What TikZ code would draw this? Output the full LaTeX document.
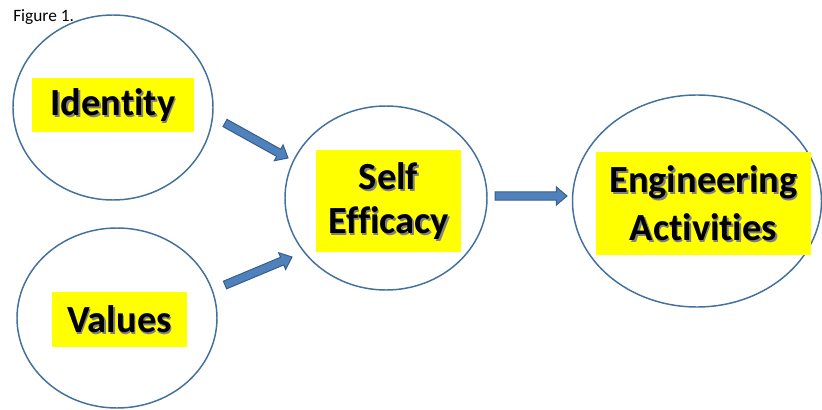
\documentclass[tikz,border=0pt]{standalone}
\usepackage{fontspec}
\setmainfont{Carlito}[RawFeature=-liga]
\usetikzlibrary{shapes.geometric,calc}
\definecolor{ringblue}{HTML}{41719C}
\definecolor{arrowfill}{HTML}{4F81BD}
\definecolor{arrowline}{HTML}{385D8A}
\definecolor{hiyellow}{HTML}{FFFF00}
\tikzset{
  ring/.style={ellipse, draw=ringblue, line width=1.1pt, fill=white, inner sep=0pt},
  ybox/.style={rectangle, fill=hiyellow, inner sep=0pt},
  lbl/.style={align=center, inner sep=0pt, text=black, font=\fontsize{28.8}{34}\selectfont\bfseries},
  lblshadow/.style={lbl, text=black!50},
  blockarrow/.style={fill=arrowfill, draw=arrowline, line width=0.75pt, line join=miter,
    to path={($(\tikztostart)!3.1pt!90:(\tikztotarget)$)
      -- ($($(\tikztotarget)!8pt!(\tikztostart)$)!3.1pt!90:(\tikztotarget)$)
      -- ($($(\tikztotarget)!8pt!(\tikztostart)$)!6.8pt!90:(\tikztotarget)$)
      -- (\tikztotarget)
      -- ($($(\tikztotarget)!8pt!(\tikztostart)$)!6.8pt!-90:(\tikztotarget)$)
      -- ($($(\tikztotarget)!8pt!(\tikztostart)$)!3.1pt!-90:(\tikztotarget)$)
      -- ($(\tikztostart)!3.1pt!-90:(\tikztotarget)$) -- cycle}}
}
\begin{document}
\begin{tikzpicture}[x=0.75pt,y=-0.75pt]
\useasboundingbox (0,0) rectangle (822,410);
\fill[white] (0,0) rectangle (822,410);

\node[anchor=base west, inner sep=0pt, font=\fontsize{13}{15}\selectfont] (fig) at (13,21.5) {Figure 1.};

% ellipses
\node[ring, minimum width=150pt, minimum height=138.75pt] (id) at (113,107.5) {};
\node[ring, minimum width=150pt, minimum height=135pt] (va) at (117,318) {};
\node[ring, minimum width=151.5pt, minimum height=138pt] (se) at (386,198) {};
\node[ring, minimum width=186.75pt, minimum height=159pt] (ea) at (697,201) {};

% yellow boxes
\node[ybox, minimum width=121.5pt, minimum height=40.5pt] (idbox) at (113,105) {};
\node[ybox, minimum width=101.25pt, minimum height=41.25pt] (vabox) at (119.5,319.5) {};
\node[ybox, minimum width=108.75pt, minimum height=76.5pt] (sebox) at (388.5,201) {};
\node[ybox, minimum width=161.25pt, minimum height=77.25pt] (eabox) at (703.5,203.5) {};

% text shadows
\node[lblshadow] (idsh) at ([shift={(1.6,2)}]idbox) {Identity};
\node[lblshadow] (vash) at ([shift={(1.6,2)}]vabox) {Values};
\node[lblshadow, font=\fontsize{28.8}{33.5}\selectfont\bfseries] (sesh) at ([shift={(1.6,2)}]sebox) {Self\\Efficacy};
\node[lblshadow, font=\fontsize{28.8}{36}\selectfont\bfseries] (eash) at ([shift={(1.6,2)}]eabox) {Engineering\\Activities};

% texts
\node[lbl] (idtxt) at (idbox) {Identity};
\node[lbl] (vatxt) at (vabox) {Values};
\node[lbl, font=\fontsize{28.8}{33.5}\selectfont\bfseries] (setxt) at (sebox) {Self\\Efficacy};
\node[lbl, font=\fontsize{28.8}{36}\selectfont\bfseries] (eatxt) at (eabox) {Engineering\\Activities};

% arrow end points
\coordinate (a1s) at (225,123);
\coordinate (a1e) at (288,158);
\coordinate (a2s) at (225,285);
\coordinate (a2e) at (292,257);
\coordinate (a3s) at (495,196);
\coordinate (a3e) at (567,196);

\draw[blockarrow] (a1s) to (a1e);
\draw[blockarrow] (a2s) to (a2e);
\draw[blockarrow] (a3s) to (a3e);
\end{tikzpicture}
\end{document}
